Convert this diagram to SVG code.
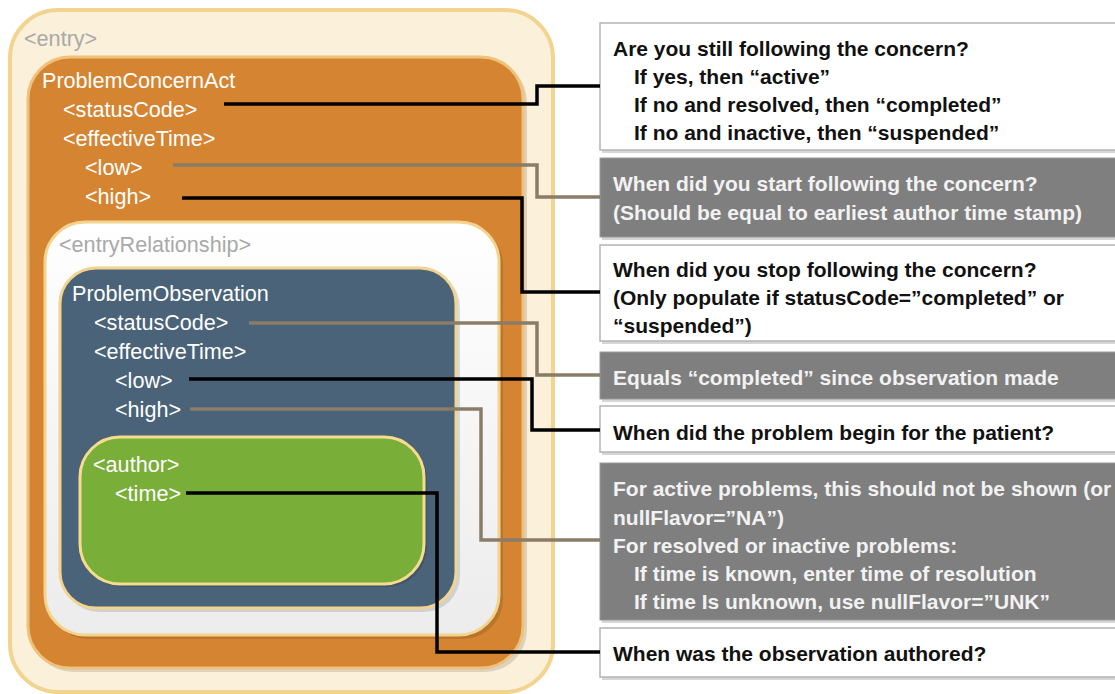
<svg xmlns="http://www.w3.org/2000/svg" width="1115" height="694" viewBox="0 0 1115 694">
<defs>
<linearGradient id="gWhite" x1="0" y1="0" x2="0" y2="1"><stop offset="0" stop-color="#ffffff"/><stop offset="1" stop-color="#ececec"/></linearGradient>
<style>
.lbl{font-family:"Liberation Sans",Arial,sans-serif;font-size:21.6px;fill:#ffffff}
.tag{font-family:"Liberation Sans",Arial,sans-serif;font-size:21.6px;fill:#a9a9a9}
.note{font-family:"Liberation Sans",Arial,sans-serif;font-size:21px;font-weight:bold;fill:#111111}
.noteL{font-family:"Liberation Sans",Arial,sans-serif;font-size:21px;font-weight:bold;fill:#f2f2f2}
.wbox{fill:#ffffff;stroke:#b4b4b4;stroke-width:1.5}
.gbox{fill:#7f7f7f;stroke:#9a9a9a;stroke-width:1}
.shadow{fill:#d6d6d6}
.cb{fill:none;stroke:#000000;stroke-width:3.5}
.cg{fill:none;stroke:#8b7c68;stroke-width:3.5}
.nshadow{fill:#000000;opacity:0.12}
</style>
</defs>

<g id="entry">
<rect x="10" y="10" width="543" height="682" rx="48" fill="#fbf0da" stroke="#f3d48f" stroke-width="4"/>
<text class="tag" x="24" y="46">&lt;entry&gt;</text>
</g>

<g id="problemConcernAct">
<rect x="31" y="60" width="496" height="612" rx="42" class="nshadow"/>
<rect x="28" y="57" width="495" height="611" rx="42" fill="#d58432" stroke="#efc27c" stroke-width="3"/>
<text class="lbl" x="42" y="88">ProblemConcernAct</text>
<text class="lbl" x="63" y="117">&lt;statusCode&gt;</text>
<text class="lbl" x="63" y="146">&lt;effectiveTime&gt;</text>
<text class="lbl" x="85" y="175">&lt;low&gt;</text>
<text class="lbl" x="85" y="204">&lt;high&gt;</text>
</g>

<g id="entryRelationship">
<rect x="48" y="225" width="455" height="414" rx="40" class="nshadow"/>
<rect x="45" y="222" width="454" height="413" rx="40" fill="url(#gWhite)" stroke="#f2d48e" stroke-width="3"/>
<text class="tag" x="59" y="252">&lt;entryRelationship&gt;</text>
</g>

<g id="problemObservation">
<rect x="63" y="271" width="397" height="341" rx="36" class="nshadow"/>
<rect x="60" y="268" width="396" height="340" rx="36" fill="#4a6378" stroke="#f2d48e" stroke-width="3"/>
<text class="lbl" x="72" y="301">ProblemObservation</text>
<text class="lbl" x="94" y="330">&lt;statusCode&gt;</text>
<text class="lbl" x="94" y="359">&lt;effectiveTime&gt;</text>
<text class="lbl" x="115" y="388">&lt;low&gt;</text>
<text class="lbl" x="115" y="417">&lt;high&gt;</text>
</g>

<g id="author">
<rect x="83" y="440" width="344" height="147" rx="40" class="nshadow"/>
<rect x="80" y="437" width="344" height="147" rx="40" fill="#79ae38" stroke="#f5dc8e" stroke-width="3"/>
<text class="lbl" x="93" y="472">&lt;author&gt;</text>
<text class="lbl" x="115" y="501">&lt;time&gt;</text>
</g>

<g id="note1">
<rect class="shadow" x="602" y="26" width="520" height="127"/>
<rect class="wbox" x="600" y="23" width="520" height="127"/>
<text class="note" x="613" y="56">Are you still following the concern?</text>
<text class="note" x="634" y="84">If yes, then “active”</text>
<text class="note" x="634" y="112">If no and resolved, then “completed”</text>
<text class="note" x="634" y="140">If no and inactive, then “suspended”</text>
</g>

<g id="note2">
<rect class="shadow" x="602" y="161" width="520" height="79"/>
<rect class="gbox" x="600" y="158" width="520" height="79"/>
<text class="noteL" x="613" y="191">When did you start following the concern?</text>
<text class="noteL" x="613" y="220">(Should be equal to earliest author time stamp)</text>
</g>

<g id="note3">
<rect class="shadow" x="602" y="248" width="520" height="96"/>
<rect class="wbox" x="600" y="245" width="520" height="96"/>
<text class="note" x="613" y="277">When did you stop following the concern?</text>
<text class="note" x="613" y="305">(Only populate if statusCode=”completed” or</text>
<text class="note" x="613" y="333">“suspended”)</text>
</g>

<g id="note4">
<rect class="shadow" x="602" y="355" width="520" height="47"/>
<rect class="gbox" x="600" y="352" width="520" height="47"/>
<text class="noteL" x="613" y="385">Equals “completed” since observation made</text>
</g>

<g id="note5">
<rect class="shadow" x="602" y="409" width="520" height="46"/>
<rect class="wbox" x="600" y="406" width="520" height="46"/>
<text class="note" x="613" y="440">When did the problem begin for the patient?</text>
</g>

<g id="note6">
<rect class="shadow" x="602" y="466" width="520" height="157"/>
<rect class="gbox" x="600" y="463" width="520" height="157"/>
<text class="noteL" x="613" y="496">For active problems, this should not be shown (or</text>
<text class="noteL" x="613" y="525">nullFlavor=”NA”)</text>
<text class="noteL" x="613" y="553">For resolved or inactive problems:</text>
<text class="noteL" x="634" y="581">If time is known, enter time of resolution</text>
<text class="noteL" x="634" y="609">If time Is unknown, use nullFlavor=”UNK”</text>
</g>

<g id="note7">
<rect class="shadow" x="602" y="631" width="520" height="49"/>
<rect class="wbox" x="600" y="628" width="520" height="49"/>
<text class="note" x="613" y="661">When was the observation authored?</text>
</g>

<g id="connectors">
<polyline class="cb" points="224,104 537,104 537,86 600,86"/>
<polyline class="cg" points="173,165 537,165 537,197 600,197"/>
<polyline class="cb" points="182,198 522,198 522,292 600,292"/>
<polyline class="cg" points="249,323 537,323 537,375 600,375"/>
<polyline class="cb" points="189,379 532,379 532,430 600,430"/>
<polyline class="cg" points="190,409 481,409 481,540 600,540"/>
<polyline class="cb" points="186,493 437,493 437,652 600,652"/>
</g>
</svg>
